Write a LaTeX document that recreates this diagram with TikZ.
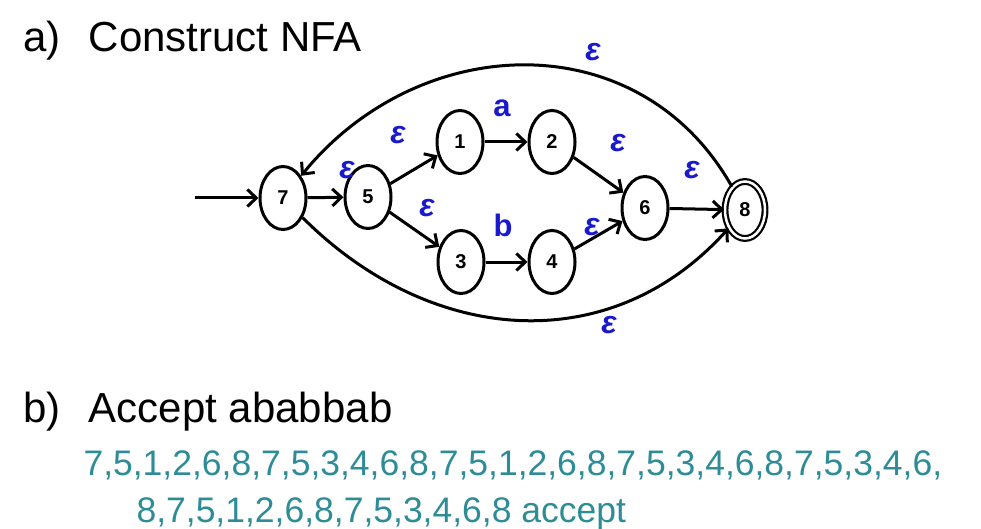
\documentclass[tikz,border=0pt]{standalone}
\usepackage{fontspec}
\setmainfont{Liberation Sans}
\usetikzlibrary{shapes.geometric,arrows.meta}
\definecolor{epsblue}{RGB}{25,25,205}
\definecolor{runteal}{RGB}{45,140,150}

\begin{document}
\begin{tikzpicture}[x=1pt, y=-1pt,
	state/.style={ellipse, draw, line width=3pt, minimum width=46pt, minimum height=63pt, inner sep=0pt, font=\fontsize{20}{20}\selectfont\bfseries},
	final/.style={state, double, double distance=2.5pt, line width=2.2pt, minimum width=40pt, minimum height=57pt},
	trans/.style={line width=3pt, -{Straight Barb[length=9pt,width=17pt]}},
	lbl/.style={text=epsblue, font=\fontsize{31}{31}\selectfont\bfseries},
	eps/.style={text=epsblue, font=\fontsize{32}{32}\selectfont\bfseries\itshape},
	heading/.style={anchor=base west, font=\fontsize{42}{42}\selectfont},
	run/.style={anchor=base west, text=runteal, font=\fontsize{35.5}{35.5}\selectfont}]
	\useasboundingbox (0,0) rectangle (981,529);

	\node[heading] (parta) at (20,52) {a)\hspace{28pt}Construct NFA};

	\node[state] (n7) at (283,198) {7};
	\node[state] (n5) at (368,197) {5};
	\node[state] (n1) at (460,142) {1};
	\node[state] (n2) at (552,142) {2};
	\node[state] (n3) at (461,262) {3};
	\node[state] (n4) at (552,262) {4};
	\node[state] (n6) at (645,208) {6};
	\node[final] (n8) at (745,210) {8};
	\coordinate (start) at (195,198);

	\draw[trans] (start) -- (n7);
	\draw[trans] (n7) -- (n5);
	\draw[trans] (n5) -- (n1);
	\draw[trans] (n5) -- (n3);
	\draw[trans] (n1) -- (n2);
	\draw[trans] (n3) -- (n4);
	\draw[trans] (n2) -- (n6);
	\draw[trans] (n4) -- (n6);
	\draw[trans] (n6) -- (n8);
	\draw[trans] (n8) .. controls (640,23) and (420,30) .. (n7);
	\draw[trans] (n7) .. controls (430,345) and (610,360) .. (n8);

	\node[eps] (e87) at (593,52) {ε};
	\node[eps] (e75) at (347,170) {ε};
	\node[eps] (e51) at (398,135) {ε};
	\node[eps] (e53) at (427,208) {ε};
	\node[lbl] (la) at (502,108) {a};
	\node[lbl] (lb) at (503,225) {b};
	\node[eps] (e26) at (618,143) {ε};
	\node[eps] (e46) at (592,227) {ε};
	\node[eps] (e68) at (692,170) {ε};
	\node[eps] (e78) at (609,325) {ε};

	\node[heading] (partb) at (20,422) {b)\hspace{28pt}Accept ababbab};
	\node[run] (run1) at (80,475) {7,5,1,2,6,8,7,5,3,4,6,8,7,5,1,2,6,8,7,5,3,4,6,8,7,5,3,4,6,};
	\node[run] (run2) at (133,522) {8,7,5,1,2,6,8,7,5,3,4,6,8 accept};
\end{tikzpicture}
\end{document}
